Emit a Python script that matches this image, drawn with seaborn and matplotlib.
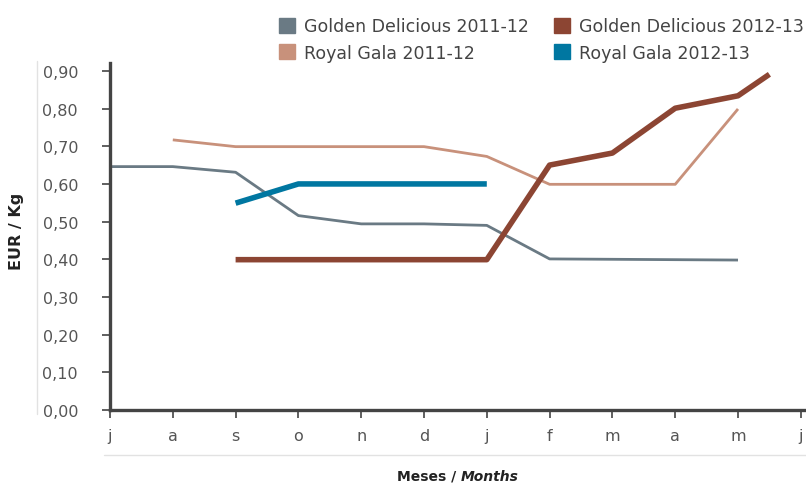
import matplotlib
matplotlib.use("Agg")
import matplotlib.pyplot as plt
from matplotlib.patches import Patch
from matplotlib.lines import Line2D
import seaborn as sns
import pandas as pd

# month ticks (jul -> jul)
months = ["j", "a", "s", "o", "n", "d", "j", "f", "m", "a", "m", "j"]
yticks = [0.0, 0.1, 0.2, 0.3, 0.4, 0.5, 0.6, 0.7, 0.8, 0.9]

gd_1112_x = [0, 1, 2, 3, 4, 5, 6, 7, 8, 9, 10]
gd_1112 = [0.646, 0.646, 0.631, 0.516, 0.494, 0.494, 0.490, 0.401, 0.400, 0.399, 0.398]

rg_1112_x = [1, 2, 3, 4, 5, 6, 7, 8, 9, 10]
rg_1112 = [0.717, 0.699, 0.699, 0.699, 0.699, 0.673, 0.599, 0.599, 0.599, 0.799]

rg_1213_x = [2, 3, 4, 5, 6]
rg_1213 = [0.549, 0.600, 0.600, 0.600, 0.600]

gd_1213_x = [2, 3, 4, 5, 6, 7, 8, 9, 10, 10.5]
gd_1213 = [0.399, 0.399, 0.399, 0.399, 0.399, 0.650, 0.682, 0.801, 0.834, 0.891]

names = ["Golden Delicious 2011-12", "Royal Gala 2011-12",
         "Golden Delicious 2012-13", "Royal Gala 2012-13"]
colors = {"Golden Delicious 2011-12": "#6a7a84",
          "Royal Gala 2011-12": "#c8917b",
          "Golden Delicious 2012-13": "#8c4533",
          "Royal Gala 2012-13": "#0077a1"}
widths = {"Golden Delicious 2011-12": 2.0,
          "Royal Gala 2011-12": 2.0,
          "Golden Delicious 2012-13": 4.0,
          "Royal Gala 2012-13": 4.0}

sns.set_theme(style="white")
plt.rcParams["font.family"] = ["DejaVu Sans"]

W, H = 806, 485
fig = plt.figure(figsize=(W / 100, H / 100), dpi=100)
x0, x1, y0, y1 = 110, 806, 411, 64
ax = fig.add_axes([x0 / W, (H - y0) / H, (x1 - x0) / W, (y0 - y1) / H])

series = [(names[0], gd_1112_x, gd_1112), (names[1], rg_1112_x, rg_1112),
          (names[3], rg_1213_x, rg_1213), (names[2], gd_1213_x, gd_1213)]
for name, xs, ys in series:
    df = pd.DataFrame({"mes": xs, "eur": ys})
    sns.lineplot(data=df, x="mes", y="eur", ax=ax, color=colors[name],
                 linewidth=widths[name], solid_capstyle="butt")

ax.set_xlim(0, (x1 - x0) / 62.8)
ax.set_ylim(0, 0.921)
ax.set_xticks(range(len(months)))
ax.set_xticklabels(months)
ax.set_yticks(yticks)
ax.set_yticklabels(["{:.2f}".format(v).replace(".", ",") for v in yticks])
ax.tick_params(axis="both", bottom=True, left=True, colors="#444444",
               labelcolor="#555555", labelsize=11.5, length=6, width=1.2,
               direction="out")
ax.tick_params(axis="y", pad=17)
ax.tick_params(axis="x", pad=7)
for s in ["top", "right"]:
    ax.spines[s].set_visible(False)
for s in ["left", "bottom"]:
    ax.spines[s].set_color("#444444")
    ax.spines[s].set_linewidth(2.4)
ax.set_xlabel("")
ax.set_ylabel("")

fig.text(17 / W, (H - 231) / H, "EUR / Kg", rotation=90, ha="center", va="center",
         fontsize=11.5, fontweight="bold", color="#222222")
fig.text(461 / W, (H - 477) / H, "Meses / ", ha="right", va="center",
         fontsize=10, fontweight="bold", color="#222222")
fig.text(461 / W, (H - 477) / H, "Months", ha="left", va="center",
         fontsize=10, fontweight="bold", style="italic", color="#222222")

# light frame lines
fig.add_artist(Line2D([37 / W, 37 / W], [(H - 415) / H, (H - 62) / H],
                      color="#e2e2e2", linewidth=1))
fig.add_artist(Line2D([104 / W, 806 / W], [(H - 456) / H, (H - 456) / H],
                      color="#e2e2e2", linewidth=1))

handles = [Patch(color=colors[n]) for n in names]
fig.legend(handles, names, ncol=2, frameon=False, loc="upper left",
           bbox_to_anchor=(279 / W, 1 - 18 / H), fontsize=12.5, borderpad=0,
           borderaxespad=0, labelcolor="#444444", handlelength=0.9,
           handleheight=0.95, handletextpad=0.55, columnspacing=1.45,
           labelspacing=0.5)

fig.savefig("out.png", dpi=100)
